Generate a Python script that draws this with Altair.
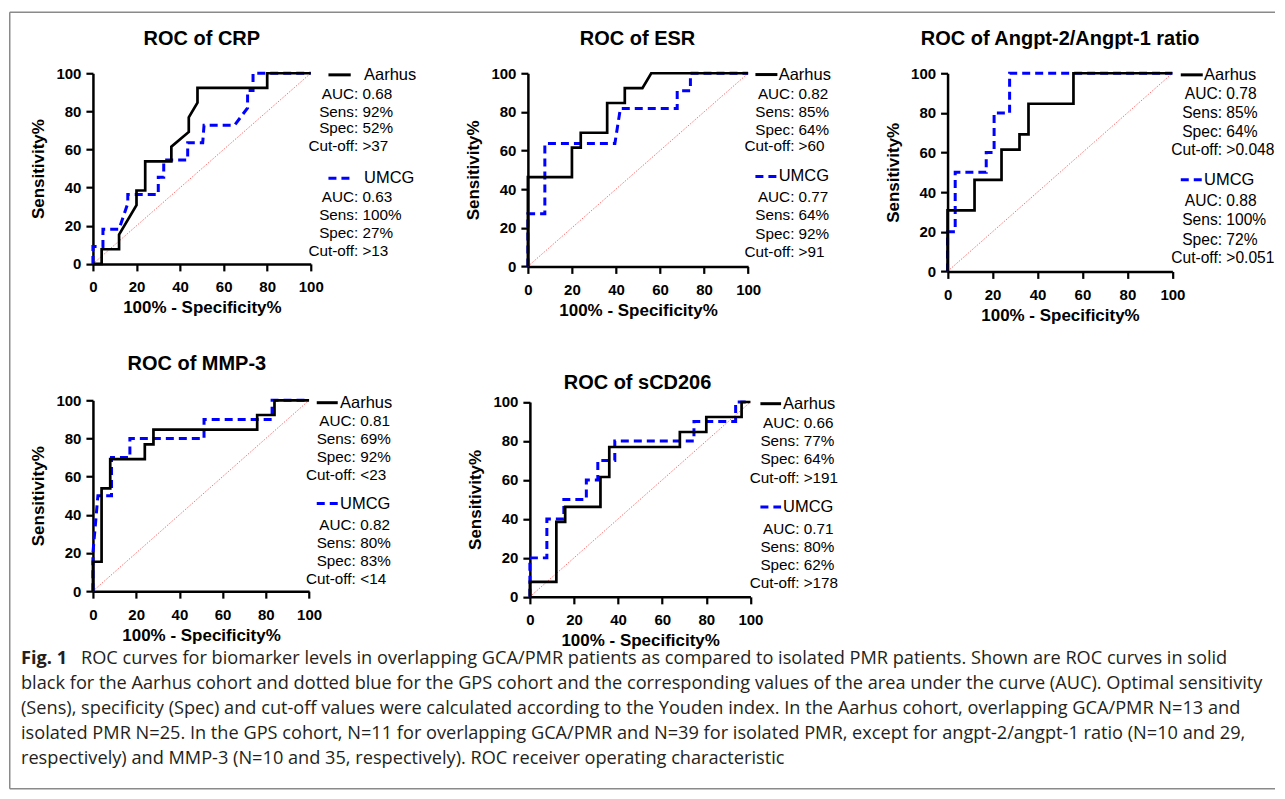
import altair as alt
import pandas as pd

FONT = "Liberation Sans"
CAP_FONT = "Open Sans"
BLUE = "#0000ff"

# ---------------- data ----------------
axis_ticks = [0, 20, 40, 60, 80, 100]
diag = [0, 100]

crp_aarhus_x = [0, 4, 4, 12, 12, 20, 20, 24, 24, 36, 36, 44, 44, 48, 48, 80, 80, 100]
crp_aarhus_y = [0, 0, 7.7, 7.7, 15.4, 30.8, 38.5, 38.5, 53.8, 53.8, 61.5, 69.2, 76.9, 84.6, 92.3, 92.3, 100, 100]
crp_umcg_x = [0, 0, 4.6, 4.6, 12, 16, 16, 30, 30, 32.5, 32.5, 43.5, 43.5, 50.4, 51, 65, 71, 71, 73.5, 73.5, 100]
crp_umcg_y = [0, 9.1, 9.1, 18.2, 18.2, 31.8, 36.4, 36.4, 45.5, 45.5, 54.5, 54.5, 63.6, 63.6, 72.7, 72.7, 81.8, 90.9, 90.9, 100, 100]

esr_aarhus_x = [0, 0, 20, 20, 24, 24, 36, 36, 44, 44, 52, 56, 100]
esr_aarhus_y = [0, 46.2, 46.2, 61.5, 61.5, 69.2, 69.2, 84.6, 84.6, 92.3, 92.3, 100, 100]
esr_umcg_x = [0, 0, 7.7, 7.7, 39.5, 42, 67.8, 67.8, 73.8, 73.8, 100]
esr_umcg_y = [0, 27.3, 27.3, 63.6, 63.6, 81.8, 81.8, 90.9, 90.9, 100, 100]

angpt_aarhus_x = [0, 0, 12, 12, 24, 24, 32, 32, 36, 36, 56, 56, 100]
angpt_aarhus_y = [0, 30.8, 30.8, 46.2, 46.2, 61.5, 61.5, 69.2, 69.2, 84.6, 84.6, 100, 100]
angpt_umcg_x = [0, 0, 3.4, 3.4, 17.2, 17.2, 20.7, 20.7, 27.6, 27.6, 100]
angpt_umcg_y = [0, 20, 20, 50, 50, 60, 60, 80, 80, 100, 100]

mmp3_aarhus_x = [0, 0, 4, 4, 8, 8, 24, 24, 28, 28, 76, 76, 84, 84, 100]
mmp3_aarhus_y = [0, 15.4, 15.4, 53.8, 53.8, 69.2, 69.2, 76.9, 76.9, 84.6, 84.6, 92.3, 92.3, 100, 100]
mmp3_umcg_x = [0, 0, 2.3, 8.6, 8.6, 17.1, 17.1, 51.4, 51.4, 82.9, 82.9, 100]
mmp3_umcg_y = [0, 20, 50, 50, 70, 70, 80, 80, 90, 90, 100, 100]

scd206_aarhus_x = [0, 0, 12, 12, 16, 16, 32, 32, 36, 36, 68, 68, 80, 80, 96, 96, 100]
scd206_aarhus_y = [0, 7.7, 7.7, 38.5, 38.5, 46.2, 46.2, 61.5, 61.5, 76.9, 76.9, 84.6, 84.6, 92.3, 92.3, 100, 100]
scd206_umcg_x = [0, 0, 7.7, 7.7, 15.4, 15.4, 25.6, 25.6, 30.8, 30.8, 38.5, 38.5, 74.4, 74.4, 93.3, 93.3, 100]
scd206_umcg_y = [0, 20, 20, 40, 40, 50, 50, 60, 60, 70, 70, 80, 80, 90, 90, 100, 100]

panel_titles = ["ROC of CRP", "ROC of ESR", "ROC of Angpt-2/Angpt-1 ratio", "ROC of MMP-3", "ROC of sCD206"]
cohorts = ["Aarhus", "UMCG"]
stat_names = ["AUC:", "Sens:", "Spec:", "Cut-off:"]
crp_stats = [["0.68", "92%", "52%", ">37"], ["0.63", "100%", "27%", ">13"]]
esr_stats = [["0.82", "85%", "64%", ">60"], ["0.77", "64%", "92%", ">91"]]
angpt_stats = [["0.78", "85%", "64%", ">0.048"], ["0.88", "100%", "72%", ">0.051"]]
mmp3_stats = [["0.81", "69%", "92%", "<23"], ["0.82", "80%", "83%", "<14"]]
scd206_stats = [["0.66", "77%", "64%", ">191"], ["0.71", "80%", "62%", ">178"]]

x_title = "100% - Specificity%"
y_title = "Sensitivity%"

caption_bold = "Fig. 1"
caption_first = ("ROC curves for biomarker levels in overlapping GCA/PMR patients as compared to "
                 "isolated PMR patients. Shown are ROC curves in solid")
caption_rest = [
    "black for the Aarhus cohort and dotted blue for the GPS cohort and the corresponding values of the area under the curve (AUC). Optimal sensitivity",
    "(Sens), specificity (Spec) and cut-off values were calculated according to the Youden index. In the Aarhus cohort, overlapping GCA/PMR N=13 and",
    "isolated PMR N=25. In the GPS cohort, N=11 for overlapping GCA/PMR and N=39 for isolated PMR, except for angpt-2/angpt-1 ratio (N=10 and 29,",
    "respectively) and MMP-3 (N=10 and 35, respectively). ROC receiver operating characteristic",
]

# ---------------- helpers ----------------
one = pd.DataFrame({"k": [0]})
CELL_W, CELL_H = 225, 198.3


def curve_df(xs, ys):
    return pd.DataFrame({"x": xs, "y": ys, "i": list(range(len(xs)))})


def txt(text, x, y, size, align="left", weight="normal", color="black", font=FONT):
    return alt.Chart(one).mark_text(
        font=font, fontSize=size, align=align, baseline="middle",
        fontWeight=weight, color=color, text=text
    ).encode(x=alt.value(x), y=alt.value(y))


def seg(x0, x1, y, color, width=3, dash=None):
    kw = dict(color=color, strokeWidth=width)
    if dash is not None:
        kw["strokeDash"] = dash
    return alt.Chart(one).mark_rule(**kw).encode(x=alt.value(x0), x2=alt.value(x1), y=alt.value(y))


def panel(title, ax, ay, ux, uy, stats, L, extra=None):
    dx, dy, pw, ph = L["dx"], L["dy"], L["pw"], L["ph"]
    xscale = alt.Scale(domain=[0, 100], nice=False, zero=False, range=[dx, dx + pw])
    yscale = alt.Scale(domain=[0, 100], nice=False, zero=False, range=[dy + ph, dy])
    X = alt.X("x:Q", scale=xscale,
              axis=alt.Axis(values=axis_ticks, title=x_title, offset=-(CELL_H - (dy + ph))))
    Y = alt.Y("y:Q", scale=yscale,
              axis=alt.Axis(values=axis_ticks, title=y_title, offset=-dx))
    layers = []
    layers.append(alt.Chart(pd.DataFrame({"x": diag, "y": diag})).mark_line(
        color="#ff7070", strokeWidth=1, strokeDash=[1.5, 1.5]).encode(x=X, y=Y))
    layers.append(alt.Chart(curve_df(ux, uy)).mark_line(
        color=BLUE, strokeWidth=3, strokeDash=[8, 5]).encode(x=X, y=Y, order="i:Q"))
    layers.append(alt.Chart(curve_df(ax, ay)).mark_line(
        color="black", strokeWidth=2.7).encode(x=X, y=Y, order="i:Q"))
    tdx = L["tdx"]
    layers.append(txt(title, tdx + L["tx"], L["ty"], 20, align="center", weight="bold"))
    lx0, lx1 = L["lx"]
    layers.append(seg(tdx + lx0, tdx + lx1, L["ny"][0], "black", 3))
    layers.append(seg(tdx + lx0, tdx + lx1, L["ny"][1], BLUE, 3, [8, 5]))
    layers.append(txt(cohorts[0], tdx + L["nx"], L["ny"][0], 16.5))
    layers.append(txt(cohorts[1], tdx + L["nx"], L["ny"][1], 16.5))
    fs = L.get("fs", 15.3)
    for k in range(2):
        for j in range(4):
            yy = L["rows"][k][j]
            layers.append(txt(stat_names[j], tdx + L["cx"], yy, fs, align="right"))
            layers.append(txt(stats[k][j], tdx + L["vx"], yy, fs, align="left"))
    if extra:
        layers.extend(extra)
    return alt.layer(*layers).properties(width=CELL_W, height=CELL_H)


# ---------------- figure frame and caption (drawn from panel 1) ----------------
border_col = "#8a8a8a"
cap_col = "#231f20"
cap_size = 18.2
cap_y = [586, 611, 636, 661, 686]
frame = [
    seg(-83.25, 1183, -61, border_col, 1.5),
    seg(-83.25, 1183, 716, border_col, 1.5),
    alt.Chart(one).mark_rule(color=border_col, strokeWidth=1.5).encode(
        x=alt.value(-83.25), y=alt.value(-61), y2=alt.value(716)),
    txt(caption_bold, -72, cap_y[0], cap_size, weight="bold", color=cap_col, font=CAP_FONT),
    txt(caption_first, -12, cap_y[0], cap_size, color=cap_col, font=CAP_FONT),
] + [txt(line, -72, cap_y[i + 1], cap_size, color=cap_col, font=CAP_FONT)
     for i, line in enumerate(caption_rest)]

L1 = dict(dx=0, dy=0, pw=218, ph=190.8, tdx=0, tx=109, ty=-34.7, lx=(235.7, 258), nx=271.3,
          ny=(1.6, 105), cx=265.5, vx=269.7,
          rows=[[20.6, 38.3, 55, 73.3], [124.3, 142.3, 160.3, 178.3]])
L2 = dict(dx=0, dy=0, pw=220.4, ph=193.3, tdx=0, tx=109.7, ty=-34.7, lx=(227.7, 249.7), nx=251,
          ny=(1.3, 103.3), cx=266.7, vx=270.9,
          rows=[[20.6, 38.6, 56.3, 73.3], [124.3, 142.3, 160.6, 179]])
L3 = dict(dx=-15.3, dy=0, pw=225, ph=198.3, tdx=-15.3, tx=112.7, ty=-34.7, lx=(233.4, 255.4),
          nx=256.7, ny=(1.6, 106.6), cx=274.7, vx=279, fs=15.6,
          rows=[[20.6, 40, 58.3, 76.6], [128.3, 147.3, 166.6, 185]])
L4 = dict(dx=0, dy=0, pw=216.3, ph=191, tdx=0, tx=104, ty=-36.3, lx=(224, 245), nx=247.3,
          ny=(2.4, 103.4), cx=263, vx=267.5,
          rows=[[20.7, 39, 56.7, 74.4], [125, 142.7, 161, 178.4]])
L5 = dict(dx=2, dy=1.7, pw=220.7, ph=195, tdx=2, tx=107.7, ty=-17.3, lx=(230.7, 251.4), nx=253.4,
          ny=(3.4, 106.7), cx=269.8, vx=274,
          rows=[[22.4, 41, 59, 77.4], [128.4, 146.7, 165, 182.7]])

p1 = panel(panel_titles[0], crp_aarhus_x, crp_aarhus_y, crp_umcg_x, crp_umcg_y, crp_stats, L1, frame)
p2 = panel(panel_titles[1], esr_aarhus_x, esr_aarhus_y, esr_umcg_x, esr_umcg_y, esr_stats, L2)
p3 = panel(panel_titles[2], angpt_aarhus_x, angpt_aarhus_y, angpt_umcg_x, angpt_umcg_y, angpt_stats, L3)
p4 = panel(panel_titles[3], mmp3_aarhus_x, mmp3_aarhus_y, mmp3_umcg_x, mmp3_umcg_y, mmp3_stats, L4)
p5 = panel(panel_titles[4], scd206_aarhus_x, scd206_aarhus_y, scd206_umcg_x, scd206_umcg_y, scd206_stats, L5)

chart = alt.concat(
    p1, p2, p3, p4, p5, columns=3, bounds="flush",
    spacing={"row": 326.6 - CELL_H, "column": 435.3 - CELL_W}
).properties(
    padding={"left": 0, "top": 2, "right": 0, "bottom": 0}
).configure_view(stroke="transparent").configure_axis(
    domainColor="black", domainWidth=2.5, tickColor="black", tickWidth=2.2, tickSize=7,
    labelFont=FONT, labelFontSize=15, labelFontWeight="bold", labelColor="black",
    titleFont=FONT, titleFontSize=17, titleFontWeight="bold", titleColor="black",
    grid=False, labelFlush=False, labelOverlap=False
).configure_axisX(labelPadding=9, titlePadding=5).configure_axisY(labelPadding=5, titlePadding=8)

chart.save("out.html", embed_options={"renderer": "svg", "actions": False})
